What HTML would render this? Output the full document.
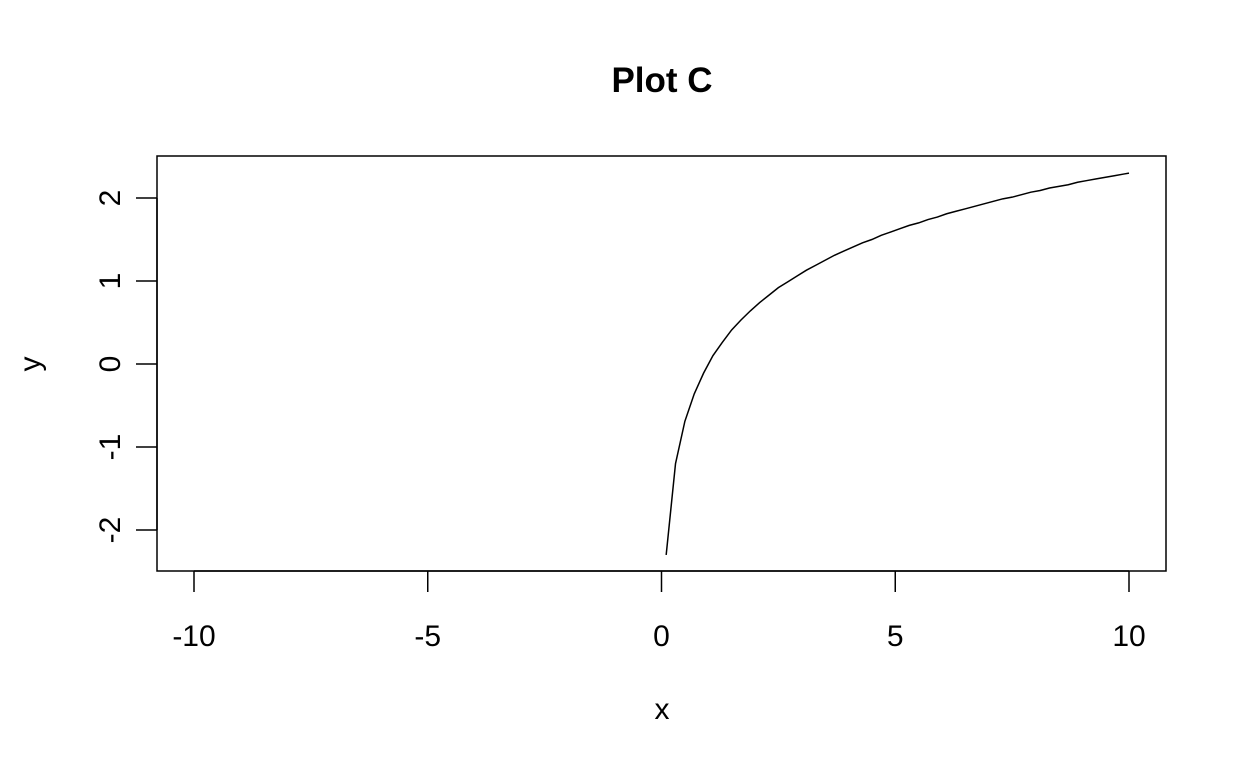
<!DOCTYPE html>
<html><head><meta charset="utf-8"><style>
html,body{margin:0;padding:0;background:#fff;}
text{font-family:"Liberation Sans",Arial,sans-serif;fill:#000;}
</style></head><body>
<svg id="chart" width="1248" height="768" xmlns="http://www.w3.org/2000/svg">
<rect width="1248" height="768" fill="#fff"/>
<text x="662" y="92" font-size="35" font-weight="bold" text-anchor="middle">Plot C</text>
<text x="662" y="719" font-size="30" text-anchor="middle">x</text>
<text transform="translate(40,364) rotate(-90)" font-size="30" text-anchor="middle">y</text>
<rect x="157" y="156" width="1009" height="415" fill="none" stroke="#000" stroke-width="1.5"/>
<g id="xaxis"></g>
<g id="yaxis"></g>
<g id="series"></g>
</svg>
<script>
const xVals = [0.1,0.3,0.5,0.7,0.9,1.1,1.3,1.5,1.7,1.9,2.1,2.3,2.5,2.7,2.9,3.1,3.3,3.5,3.7,3.9,4.1,4.3,4.5,4.7,4.9,5.1,5.3,5.5,5.7,5.9,6.1,6.3,6.5,6.7,6.9,7.1,7.3,7.5,7.7,7.9,8.1,8.3,8.5,8.7,8.9,9.1,9.3,9.5,9.7,9.9,10];
const yVals = [-2.30,-1.20,-0.69,-0.36,-0.11,0.10,0.26,0.41,0.53,0.64,0.74,0.83,0.92,0.99,1.06,1.13,1.19,1.25,1.31,1.36,1.41,1.46,1.50,1.55,1.59,1.63,1.67,1.70,1.74,1.77,1.81,1.84,1.87,1.90,1.93,1.96,1.99,2.01,2.04,2.07,2.09,2.12,2.14,2.16,2.19,2.21,2.23,2.25,2.27,2.29,2.30];
const xTicks = [-10,-5,0,5,10];
const yTicks = [-2,-1,0,1,2];
const NS="http://www.w3.org/2000/svg";
function sx(v){return 194+(v+10)*(1129-194)/20;}
function sy(v){return 364-v*83;}
function mk(t,a,parent){const e=document.createElementNS(NS,t);for(const k in a)e.setAttribute(k,a[k]);parent.appendChild(e);return e;}
const xa=document.getElementById('xaxis'),ya=document.getElementById('yaxis'),sr=document.getElementById('series');
mk('line',{x1:sx(-10),x2:sx(10),y1:571,y2:571,stroke:'#000','stroke-width':1.5},xa);
xTicks.forEach(t=>{
  const l=mk('line',{x1:sx(t),x2:sx(t),y1:571,y2:592,stroke:'#000','stroke-width':1.5},xa);
  
  
  const tx=mk('text',{x:sx(t),y:646,'font-size':30,'text-anchor':'middle'},xa);
  tx.textContent=String(t);
  
  
});
mk('line',{x1:157,x2:157,y1:sy(-2),y2:sy(2),stroke:'#000','stroke-width':1.5},ya);
yTicks.forEach(t=>{
  const l=mk('line',{x1:136,x2:157,y1:sy(t),y2:sy(t),stroke:'#000','stroke-width':1.5},ya);
  
  
  const tx=mk('text',{transform:`translate(120,${sy(t)}) rotate(-90)`,'font-size':30,'text-anchor':'middle'},ya);
  tx.textContent=String(t);
  
  
});
const d=xVals.map((x,i)=>(i?'L':'M')+sx(x).toFixed(2)+','+sy(yVals[i]).toFixed(2)).join(' ');
const p=mk('path',{d:d,fill:'none',stroke:'#000','stroke-width':1.5},sr);


</script>
</body></html>
